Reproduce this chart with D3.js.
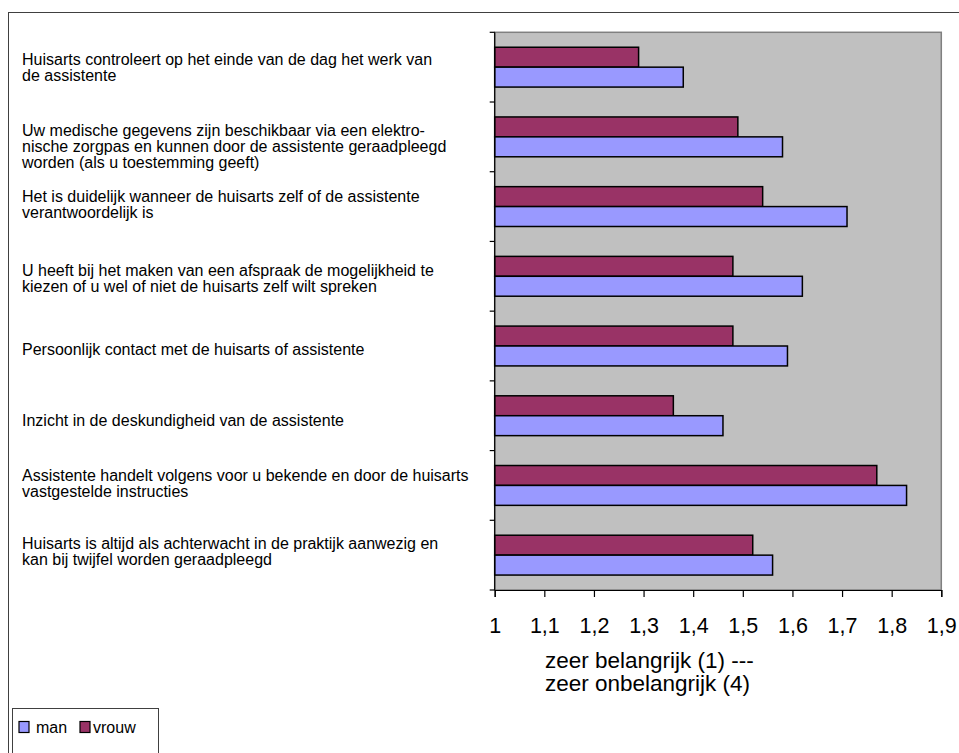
<!DOCTYPE html>
<html>
<head>
<meta charset="utf-8">
<script src="https://cdn.jsdelivr.net/npm/d3@7/dist/d3.min.js"></script>
<style>
  html, body { margin: 0; padding: 0; background: #fff; }
  svg { display: block; font-family: "Liberation Sans", Arial, sans-serif; }
</style>
</head>
<body>
<svg id="chart" width="959" height="753"></svg>
<script>
// ---- data ----
const categories = [
  ["Huisarts controleert op het einde van de dag het werk van", "de assistente"],
  ["Uw medische gegevens zijn beschikbaar via een elektro-", "nische zorgpas en kunnen door de assistente geraadpleegd", "worden (als u toestemming geeft)"],
  ["Het is duidelijk wanneer de huisarts zelf of de assistente", "verantwoordelijk is"],
  ["U heeft bij het maken van een afspraak de mogelijkheid te", "kiezen of u wel of niet de huisarts zelf wilt spreken"],
  ["Persoonlijk contact met de huisarts of assistente"],
  ["Inzicht in de deskundigheid van de assistente"],
  ["Assistente handelt volgens voor u bekende en door de huisarts", "vastgestelde instructies"],
  ["Huisarts is altijd als achterwacht in de praktijk aanwezig en", "kan bij twijfel worden geraadpleegd"]
];
const seriesNames = ["man", "vrouw"];
const manValues   = [1.38, 1.58, 1.71, 1.62, 1.59, 1.46, 1.83, 1.56];
const vrouwValues = [1.29, 1.49, 1.54, 1.48, 1.48, 1.36, 1.77, 1.52];
const tickValues = [1, 1.1, 1.2, 1.3, 1.4, 1.5, 1.6, 1.7, 1.8, 1.9];
const tickLabels = ["1", "1,1", "1,2", "1,3", "1,4", "1,5", "1,6", "1,7", "1,8", "1,9"];
const axisTitle = ["zeer belangrijk (1) ---", "zeer onbelangrijk (4)"];

// ---- layout (not data) ----
const colors = { man: "#9999FF", vrouw: "#993366" };
const labelNudge = [0, 9, -2, 2, 3, 5, -2, -4];
const plot = { left: 494.7, right: 941.3, top: 32.3, bottom: 590 };

const svg = d3.select("#chart");

// outer frame
svg.append("rect")
  .attr("x", 8.5).attr("y", 12.5).attr("width", 1000).attr("height", 1000)
  .attr("fill", "#fff").attr("stroke", "#404040").attr("stroke-width", 1);

const x = d3.scaleLinear().domain([1, 1.9]).range([plot.left, plot.right]);
const idx = categories.map((d, i) => i);
const y0 = d3.scaleBand().domain(idx).range([plot.top, plot.bottom]).padding(0);
const y1 = d3.scaleBand().domain(["vrouw", "man"]).range([0, y0.bandwidth()])
  .paddingInner(0).paddingOuter(0.75);

// plot background
svg.append("rect")
  .attr("x", plot.left).attr("y", plot.top)
  .attr("width", plot.right - plot.left).attr("height", plot.bottom - plot.top)
  .attr("fill", "#C0C0C0").attr("stroke", "#808080").attr("stroke-width", 1.5);

// bars
const rows = idx.map(i => ({ i, man: manValues[i], vrouw: vrouwValues[i] }));
const g = svg.append("g");
rows.forEach(r => {
  ["vrouw", "man"].forEach(s => {
    g.append("rect")
      .attr("x", x(1))
      .attr("y", y0(r.i) + y1(s))
      .attr("width", x(r[s]) - x(1))
      .attr("height", y1.bandwidth())
      .attr("fill", colors[s])
      .attr("stroke", "#000")
      .attr("stroke-width", 1.5);
  });
});

// x axis
const xAxis = d3.axisBottom(x).tickValues(tickValues).tickSize(7).tickFormat((d, i) => tickLabels[i]);
const xg = svg.append("g").attr("transform", `translate(0,${plot.bottom})`).call(xAxis);
xg.select(".domain").attr("stroke", "#000").attr("stroke-width", 1.2);
xg.selectAll(".tick line").attr("stroke", "#000").attr("stroke-width", 1.2);
xg.selectAll(".tick text")
  .attr("font-family", "Liberation Sans, Arial, sans-serif")
  .attr("font-size", 21.5).attr("fill", "#000")
  .attr("y", 0).attr("dy", null)
  .attr("transform", "translate(0,43)");

// y axis line + ticks at band boundaries
svg.append("line")
  .attr("x1", plot.left).attr("x2", plot.left)
  .attr("y1", plot.top).attr("y2", plot.bottom)
  .attr("stroke", "#000").attr("stroke-width", 1.2);
const boundaries = idx.map(i => y0(i)).concat([plot.bottom]);
svg.selectAll(".ytick").data(boundaries).enter().append("line")
  .attr("x1", plot.left - 5).attr("x2", plot.left)
  .attr("y1", d => d).attr("y2", d => d)
  .attr("stroke", "#000").attr("stroke-width", 1.2);

// category labels
const lh = 16;
categories.forEach((lines, i) => {
  const cy = y0(i) + y0.bandwidth() / 2 + labelNudge[i];
  const first = cy - (lines.length - 1) * lh / 2 + 5.7;
  const t = svg.append("text")
    .attr("x", 22).attr("font-size", 16).attr("fill", "#000");
  lines.forEach((ln, k) => {
    t.append("tspan").attr("x", 22).attr("y", first + k * lh).text(ln);
  });
});

// axis title
const at = svg.append("text").attr("x", 545).attr("font-size", 22.5).attr("fill", "#000");
axisTitle.forEach((ln, k) => {
  at.append("tspan").attr("x", 545).attr("y", 668 + k * 23).text(ln);
});

// legend
svg.append("rect")
  .attr("x", 12.5).attr("y", 708.5).attr("width", 146).attr("height", 60)
  .attr("fill", "#fff").attr("stroke", "#404040").attr("stroke-width", 1);
const legendX = [19, 80];
seriesNames.forEach((s, k) => {
  svg.append("rect")
    .attr("x", legendX[k]).attr("y", 721.5).attr("width", 10).attr("height", 11)
    .attr("fill", colors[s]).attr("stroke", "#000").attr("stroke-width", 1.2);
  svg.append("text")
    .attr("x", legendX[k] + (k === 0 ? 17 : 13)).attr("y", 733)
    .attr("font-size", 16).attr("fill", "#000").text(s);
});
</script>
</body>
</html>
